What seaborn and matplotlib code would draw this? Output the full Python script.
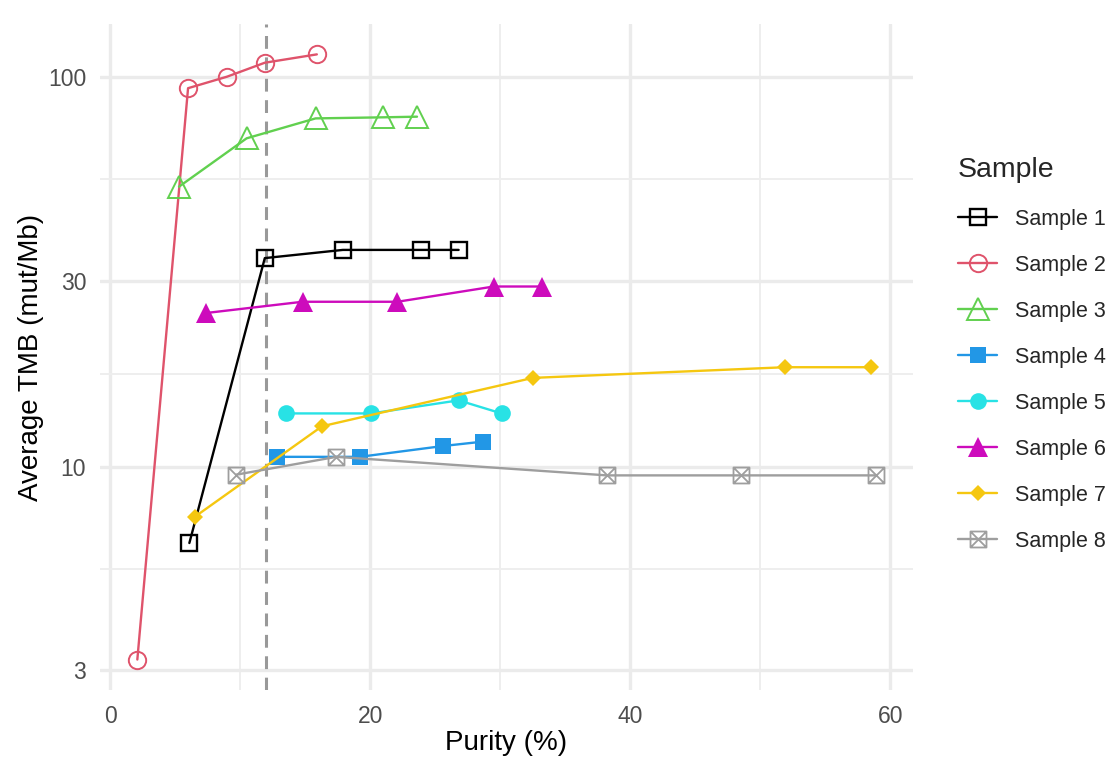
import numpy as np
import pandas as pd
import seaborn as sns
import matplotlib
matplotlib.use("Agg")
import matplotlib.pyplot as plt
from matplotlib.path import Path
from matplotlib.ticker import FixedLocator, NullFormatter, FixedFormatter

# ---- data ----
samples = ["Sample 1", "Sample 2", "Sample 3", "Sample 4",
           "Sample 5", "Sample 6", "Sample 7", "Sample 8"]

s1_x = [6.1, 11.9, 17.9, 23.9, 26.8]
s1_y = [6.37, 34.3, 36.0, 36.0, 36.0]
s2_x = [2.1, 6.0, 9.0, 11.9, 15.9]
s2_y = [3.2, 93.6, 100.2, 108.8, 114.3]
s3_x = [5.3, 10.5, 15.8, 21.0, 23.6]
s3_y = [52.3, 69.6, 78.3, 78.8, 79.1]
s4_x = [12.8, 19.2, 25.6, 28.7]
s4_y = [10.6, 10.6, 11.3, 11.6]
s5_x = [13.5, 20.1, 26.8, 30.1]
s5_y = [13.7, 13.7, 14.8, 13.7]
s6_x = [7.4, 14.8, 22.1, 29.5, 33.2]
s6_y = [24.8, 26.5, 26.5, 29.0, 29.0]
s7_x = [6.5, 16.3, 32.5, 51.9, 58.5]
s7_y = [7.43, 12.7, 16.9, 18.0, 18.0]
s8_x = [9.7, 17.4, 38.2, 48.5, 58.9]
s8_y = [9.54, 10.6, 9.5, 9.5, 9.5]

purity_cutoff = 12

x_ticks = [0, 20, 40, 60]
x_minor = [10, 30, 50]
y_ticks = [3, 10, 30, 100]
y_tick_labels = ["3", "10", "30", "100"]

series_x = [s1_x, s2_x, s3_x, s4_x, s5_x, s6_x, s7_x, s8_x]
series_y = [s1_y, s2_y, s3_y, s4_y, s5_y, s6_y, s7_y, s8_y]

df = pd.concat([
    pd.DataFrame({"purity": sx, "tmb": sy, "Sample": name})
    for name, sx, sy in zip(samples, series_x, series_y)
], ignore_index=True)

colors = ["#000000", "#DF536B", "#61D04F", "#2297E6",
          "#28E2E5", "#CD0BBC", "#F5C710", "#9E9E9E"]

# square with an X (R pch 7)
sqx = Path([(-1, -1), (1, -1), (1, 1), (-1, 1), (-1, -1),
            (-1, -1), (1, 1), (-1, 1), (1, -1)],
           [Path.MOVETO, Path.LINETO, Path.LINETO, Path.LINETO, Path.CLOSEPOLY,
            Path.MOVETO, Path.LINETO, Path.MOVETO, Path.LINETO])

styles = [
    dict(marker="s", ms=12, mfc="none", mew=1.7),
    dict(marker="o", ms=12.5, mfc="none", mew=1.4),
    dict(marker="^", ms=16, mfc="none", mew=1.4),
    dict(marker="s", ms=11, mew=0),
    dict(marker="o", ms=12, mew=0),
    dict(marker="^", ms=14, mew=0),
    dict(marker="D", ms=8, mew=0),
    dict(marker=sqx, ms=11.5, mfc="none", mew=1.3),
]

sns.set_theme(style="white")
plt.rcParams["font.family"] = ["Liberation Sans", "DejaVu Sans"]

fig = plt.figure(figsize=(11.14, 7.59), dpi=100)
ax = fig.add_axes([100 / 1114, 1 - 690 / 759, 812.6 / 1114, 666 / 759])

for name, col, st in zip(samples, colors, styles):
    sub = df[df["Sample"] == name]
    sns.lineplot(data=sub, x="purity", y="tmb", ax=ax, color=col, lw=1.7,
                 mec=col, label=name, sort=False, estimator=None, **st)

ax.axvline(purity_cutoff, color="#999999", lw=2.2, ls=(0, (4.2, 2.8)), zorder=1)

ax.set_yscale("log")
ax.set_xlim(-0.77, 61.7)
ax.set_ylim(10 ** 0.427, 10 ** 2.136)

ax.xaxis.set_major_locator(FixedLocator(x_ticks))
ax.xaxis.set_minor_locator(FixedLocator(x_minor))
ax.yaxis.set_major_locator(FixedLocator(y_ticks))
ax.yaxis.set_major_formatter(FixedFormatter(y_tick_labels))
ymin_minor = [np.sqrt(a * b) for a, b in zip(y_ticks[:-1], y_ticks[1:])]
ax.yaxis.set_minor_locator(FixedLocator(ymin_minor))
ax.yaxis.set_minor_formatter(NullFormatter())
ax.xaxis.set_minor_formatter(NullFormatter())

ax.grid(which="major", color="#EBEBEB", lw=2.4)
ax.grid(which="minor", color="#EEEEEE", lw=1.4)
ax.set_axisbelow(True)
for sp in ax.spines.values():
    sp.set_visible(False)
ax.tick_params(which="both", length=0)
ax.tick_params(axis="x", labelsize=16.5, labelcolor="#4D4D4D", pad=10.5)
ax.tick_params(axis="y", labelsize=16.5, labelcolor="#4D4D4D", pad=10)

ax.set_xlabel("Purity (%)", fontsize=20, color="black", labelpad=2)
ax.set_ylabel("Average TMB (mut/Mb)", fontsize=20, color="black", labelpad=3)

ax.get_legend().remove()
handles, labels = ax.get_legend_handles_labels()
leg = fig.legend(handles, labels, title="Sample", loc="upper left",
                 bbox_to_anchor=(949 / 1114, 1 - 148 / 759), frameon=False,
                 fontsize=15.5, title_fontsize=20.5, handlelength=1.85,
                 handletextpad=0.8, labelspacing=1.16, numpoints=1,
                 alignment="left", borderaxespad=0)
leg._legend_box.sep = 19

fig.savefig("out.png", dpi=100)
